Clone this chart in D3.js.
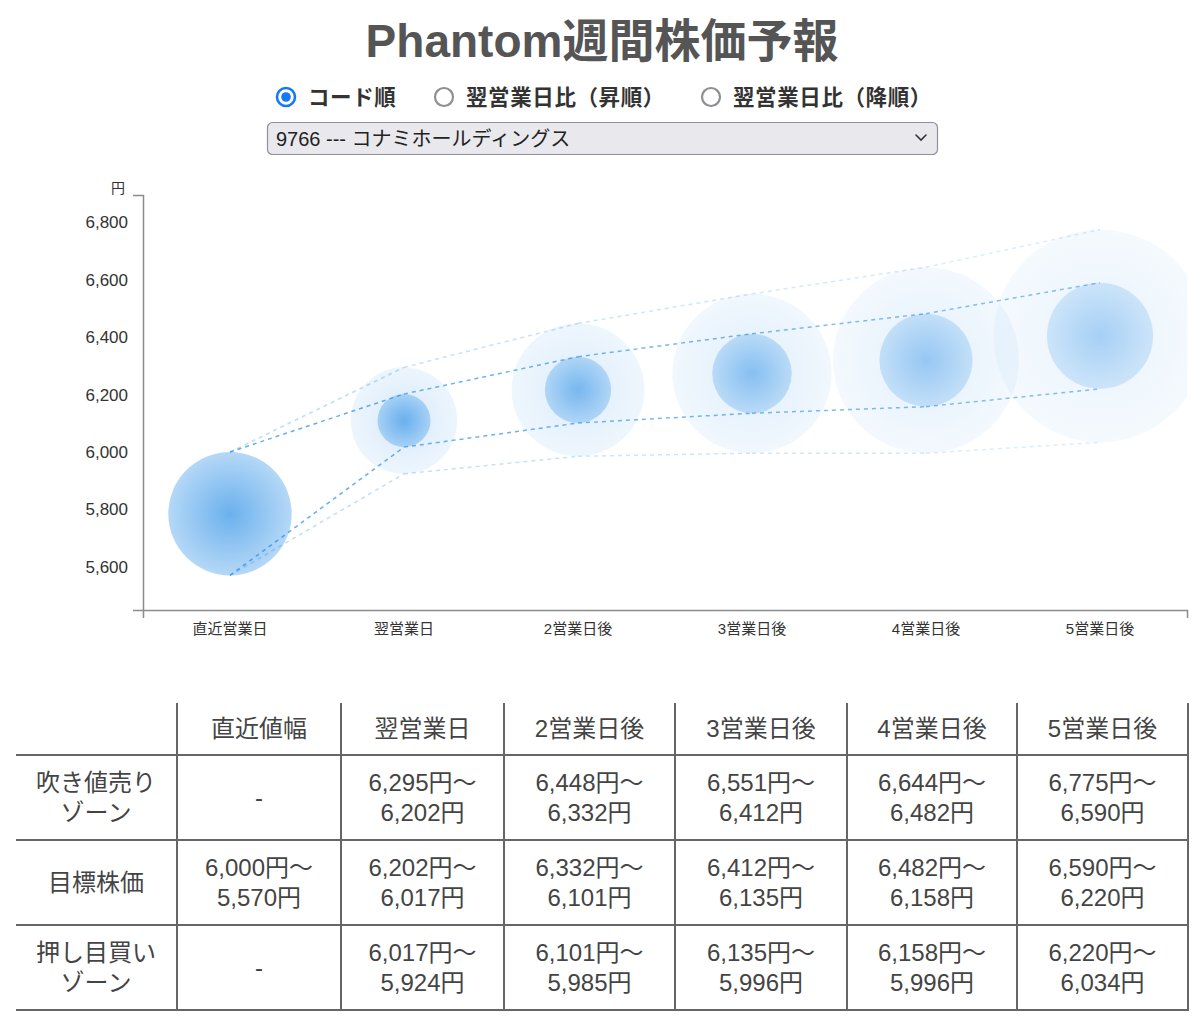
<!DOCTYPE html>
<html><head><meta charset="utf-8">
<script src="https://cdn.jsdelivr.net/npm/d3@7"></script>
<style>
body{margin:0;background:#fff;font-family:"Liberation Sans",Arial,"Noto Sans CJK JP",sans-serif;}
#wrap{position:relative;width:1200px;height:1028px;overflow:hidden;}
#wrap svg{position:absolute;left:0;top:0;}
table{position:absolute;left:16px;top:703px;border-collapse:collapse;table-layout:fixed;width:1172px;font-size:24px;color:#444;}
td,th{border:2px solid #666;text-align:center;vertical-align:middle;font-weight:normal;line-height:30px;padding:0;}
thead th{border-top:none;}
tr > :first-child{border-left:none;}
</style></head>
<body><div id="wrap"></div>
<script>
// ---- data ----
const title = 'Phantom週間株価予報';
const sortOptions = ['コード順', '翌営業日比（昇順）', '翌営業日比（降順）'];
const stockLabel = '9766 --- コナミホールディングス';
const unitLabel = '円';
const categories = ['直近営業日', '翌営業日', '2営業日後', '3営業日後', '4営業日後', '5営業日後'];
const tableHeaders = ['', '直近値幅', '翌営業日', '2営業日後', '3営業日後', '4営業日後', '5営業日後'];
const rowLabels = [['吹き値売り', 'ゾーン'], ['目標株価'], ['押し目買い', 'ゾーン']];
const sellHigh   = [null, 6295, 6448, 6551, 6644, 6775];
const sellLow    = [null, 6202, 6332, 6412, 6482, 6590];
const targetHigh = [6000, 6202, 6332, 6412, 6482, 6590];
const targetLow  = [5570, 6017, 6101, 6135, 6158, 6220];
const buyHigh    = [null, 6017, 6101, 6135, 6158, 6220];
const buyLow     = [null, 5924, 5985, 5996, 5996, 6034];
const yTicks = [5600, 5800, 6000, 6200, 6400, 6600, 6800];

// ---- layout ----
const W = 1200, H = 700;
const plot = {left: 143, right: 1187, top: 195, bottom: 610};
const radioX = [286, 444, 711];
const base = '#1e88e5';

const svg = d3.select('#wrap').append('svg').attr('width', W).attr('height', H);
const defs = svg.append('defs');

// title
svg.append('text').attr('x', 602).attr('y', 57).attr('text-anchor', 'middle')
  .attr('font-size', 46).attr('font-weight', 'bold').attr('fill', '#555').text(title);

// radio buttons
sortOptions.forEach((label, i) => {
  const cx = radioX[i];
  const g = svg.append('g');
  if (i === 0) {
    g.append('circle').attr('cx', cx).attr('cy', 97).attr('r', 9).attr('fill', '#fff')
      .attr('stroke', '#1a77f2').attr('stroke-width', 2.6);
    g.append('circle').attr('cx', cx).attr('cy', 97).attr('r', 4.8).attr('fill', '#1a77f2');
  } else {
    g.append('circle').attr('cx', cx).attr('cy', 97).attr('r', 9).attr('fill', '#fff')
      .attr('stroke', '#8e8e93').attr('stroke-width', 2.2);
  }
  g.append('text').attr('x', cx + 22).attr('y', 105).attr('font-size', 21.5)
    .attr('font-weight', 'bold').attr('fill', '#333').attr('letter-spacing', 0.6).text(label);
});

// select box
svg.append('rect').attr('x', 267.5).attr('y', 122.5).attr('width', 670).attr('height', 32)
  .attr('rx', 5).attr('fill', '#e9e9ed').attr('stroke', '#8f8f9d').attr('stroke-width', 1.2);
svg.append('text').attr('x', 276).attr('y', 146).attr('font-size', 20).attr('fill', '#222').text(stockLabel);
svg.append('path').attr('d', 'M916,135 L921,140 L926,135').attr('fill', 'none')
  .attr('stroke', '#333').attr('stroke-width', 1.6).attr('stroke-linecap', 'round');

// scales
const allVals = [].concat(sellHigh, targetHigh, targetLow, buyLow).filter(v => v != null);
const vMin = d3.min(allVals), vMax = d3.max(allVals), pad = (vMax - vMin) * 0.1;
const y = d3.scaleLinear().domain([vMin - pad, vMax + pad]).range([plot.bottom, plot.top]);
const x = d3.scaleBand().domain(categories).range([plot.left, plot.right]);
const xc = c => x(c) + x.bandwidth() / 2;

// axes
const yAxis = svg.append('g').attr('transform', `translate(${plot.left},0)`)
  .call(d3.axisLeft(y).tickValues(yTicks).tickFormat(d3.format(',')).tickSizeInner(0).tickSizeOuter(10).tickPadding(15));
const xAxis = svg.append('g').attr('transform', `translate(0,${plot.bottom})`)
  .call(d3.axisBottom(x).tickSizeInner(0).tickSizeOuter(8).tickPadding(13));
[yAxis, xAxis].forEach(a => {
  a.select('.domain').attr('stroke', '#8c8c8c').attr('stroke-width', 1.5);
  a.selectAll('text').attr('fill', '#333').attr('font-family', '"Liberation Sans",Arial,"Noto Sans CJK JP",sans-serif');
});
yAxis.selectAll('text').attr('font-size', 17);
xAxis.selectAll('text').attr('font-size', 15);
svg.append('text').attr('x', 118).attr('y', 193).attr('text-anchor', 'middle')
  .attr('font-size', 14).attr('fill', '#333').text(unitLabel);

// clip
defs.append('clipPath').attr('id', 'plotclip').append('rect')
  .attr('x', plot.left).attr('y', plot.top).attr('width', plot.right - plot.left).attr('height', plot.bottom - plot.top);
const layer = svg.append('g').attr('clip-path', 'url(#plotclip)');

function grad(id, a0, a1) {
  const g = defs.append('radialGradient').attr('id', id);
  g.append('stop').attr('offset', '0%').attr('stop-color', base).attr('stop-opacity', a0);
  g.append('stop').attr('offset', '100%').attr('stop-color', base).attr('stop-opacity', a1);
}

categories.forEach((c, i) => {
  const f = 1 - 0.1 * i;
  if (sellHigh[i] != null) {
    const r = (y(buyLow[i]) - y(sellHigh[i])) / 2;
    const cy = (y(buyLow[i]) + y(sellHigh[i])) / 2;
    grad('go' + i, 0.2 * f, 0.09 * f);
    layer.append('circle').attr('cx', xc(c)).attr('cy', cy).attr('r', r).attr('fill', `url(#go${i})`);
  }
  const r = (y(targetLow[i]) - y(targetHigh[i])) / 2;
  const cy = (y(targetLow[i]) + y(targetHigh[i])) / 2;
  grad('gi' + i, 0.66 * f, 0.33 * f);
  layer.append('circle').attr('cx', xc(c)).attr('cy', cy).attr('r', r).attr('fill', `url(#gi${i})`);
});

// dashed lines (segments)
const zoneHigh = sellHigh.map((v, i) => v == null ? targetHigh[i] : v);
const zoneLow = buyLow.map((v, i) => v == null ? targetLow[i] : v);
const series = [
  {vals: zoneHigh, zone: true}, {vals: targetHigh, zone: false},
  {vals: targetLow, zone: false}, {vals: zoneLow, zone: true}
];
const line = d3.line().x(d => xc(d.c)).y(d => y(d.v));
series.forEach(s => {
  for (let i = 0; i < categories.length - 1; i++) {
    const seg = [{c: categories[i], v: s.vals[i]}, {c: categories[i + 1], v: s.vals[i + 1]}];
    layer.append('path').attr('d', line(seg)).attr('fill', 'none').attr('stroke', base)
      .attr('stroke-width', 1.5).attr('stroke-dasharray', '4,4')
      .attr('stroke-opacity', s.zone ? 0.28 - 0.03 * i : 0.68 - 0.04 * i);
  }
});

// table
const fmt = d3.format(',');
const rng = (hi, lo) => hi == null ? '-' : `${fmt(hi)}円〜<br>${fmt(lo)}円`;
const rows = [
  sellHigh.map((v, i) => rng(v, sellLow[i])),
  targetHigh.map((v, i) => rng(v, targetLow[i])),
  buyHigh.map((v, i) => rng(v, buyLow[i]))
];
const colW = [161, 164, 163, 171, 172, 170, 171];
const table = d3.select('#wrap').append('table');
table.append('colgroup').selectAll('col').data(colW).join('col').style('width', d => d + 'px');
table.append('thead').append('tr').style('height', '52px')
  .selectAll('th').data(tableHeaders).join('th').text(d => d);
const tb = table.append('tbody');
rows.forEach((r, ri) => {
  const tr = tb.append('tr').style('height', '85px');
  tr.append('td').html(rowLabels[ri].join('<br>'));
  r.forEach(cell => tr.append('td').html(cell));
});
</script></body></html>
